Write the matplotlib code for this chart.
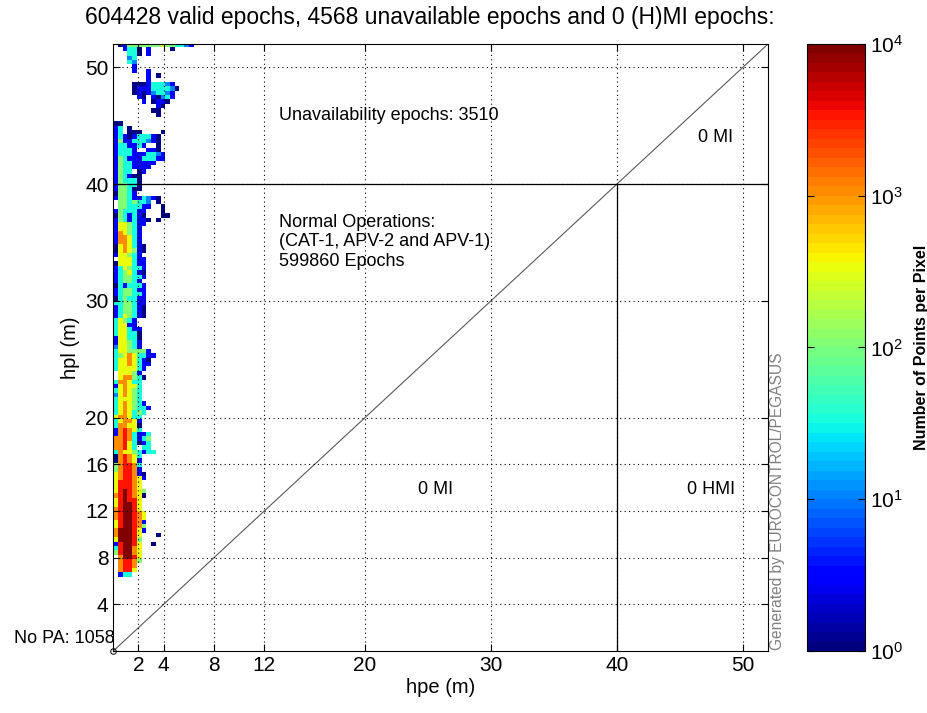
import numpy as np
import matplotlib
matplotlib.use("Agg")
import matplotlib.pyplot as plt
from matplotlib.colors import LogNorm

plt.rcParams['font.family'] = ['Liberation Sans', 'DejaVu Sans']

title_text = "604428 valid epochs, 4568 unavailable epochs and 0 (H)MI epochs:"
x_ticks = [2, 4, 8, 12, 20, 30, 40, 50]
y_ticks = [4, 8, 12, 16, 20, 30, 40, 50]
cbar_ticks = [1, 10, 100, 1000, 10000]
axis_max = 52
alert_limit = 40
bin_size = 0.375
top_bin_edge = 52.125

# density map, top row first (hpl ~52 m down to ~6.4 m),
# one char per hpe bin from 0 m: digit d -> about 10**(d/2) points, '.' -> empty
hist_rows = [
    ".0144444445443321",
    "..1330.1....0",
    "...330.1",
    "...23",
    "...32",
    "....1",
    "....1..1",
    ".......1.0",
    ".......1",
    "....000133321",
    "....0111333320",
    "....010123321",
    ".....10.10231",
    "......1.0110",
    ".........10",
    "........00",
    ".........0",
    "",
    "00",
    "13.0",
    "13.000....0",
    "1310133310",
    "1411333210",
    "1331131..0",
    "13331..110",
    "13331113321",
    "14311133311",
    "143311111",
    "14331111",
    "1433.01",
    "143100",
    "143330",
    "144330",
    "144300",
    "04431",
    "1443113210",
    ".4434332.0",
    ".4433311..0",
    "1433311...0",
    "0431310...00",
    "14313110.0",
    "1554311",
    "155431",
    "165431",
    "166531",
    "166531",
    "0565310",
    "0565410",
    "155431",
    ".555311",
    "0555311",
    "1354331",
    "1345310",
    "1344331",
    "134431",
    "0313331",
    "1344311",
    "1344331",
    "0343311",
    "3344311",
    "1344310",
    "1344310",
    "1354310",
    "35431",
    "35511",
    "355311",
    "355330",
    "155330",
    "155431",
    "255431",
    "35544441",
    "345653311",
    "35565310",
    "35565311",
    "3555531",
    ".55541",
    ".566430",
    "366533",
    "156553",
    "356543",
    "256543",
    "355543",
    "3565431",
    "35654331",
    "3565343",
    "566533",
    "356651",
    "366550",
    "167653",
    "16763113",
    "66763134",
    "66753013",
    "66753.33",
    "365543133",
    "067653",
    "067651",
    "467763",
    "467761",
    "5677610",
    "5677651",
    "577765",
    "577765",
    "5787654",
    "6787650",
    "578775",
    "578875",
    "678875",
    "6788765",
    "6788765",
    "5788761",
    "5788764",
    "6888751",
    "688875...0",
    "588874",
    "178875..0",
    "378865",
    "478865",
    ".68875",
    ".67764",
    ".6776",
    ".6775",
    ".133",
]

# build count grid (bottom row first for pcolormesh)
ncols = max(len(r) for r in hist_rows)
counts = np.full((len(hist_rows), ncols), np.nan)
for i, row in enumerate(hist_rows):
    for j, ch in enumerate(row):
        if ch != '.':
            counts[i, j] = 10 ** (int(ch) / 2)
counts = counts[::-1]
x_edges = np.arange(ncols + 1) * bin_size
y_edges = top_bin_edge - np.arange(len(hist_rows), -1, -1) * bin_size

fig = plt.figure(figsize=(9.28, 7.13), dpi=100)
ax = fig.add_axes([0.1221, 0.0870, 0.7055, 0.8513])
cax = fig.add_axes([0.8696, 0.0870, 0.0625, 0.8513])

mesh = ax.pcolormesh(x_edges, y_edges, counts, cmap=plt.get_cmap('jet', 64),
                     norm=LogNorm(1, 1e4), zorder=0.5)

# region boundaries
ax.plot([0, axis_max], [0, axis_max], color='0.35', lw=0.8)
ax.axhline(alert_limit, color='k', lw=0.9)
ax.plot([alert_limit, alert_limit], [0, alert_limit], color='k', lw=0.9)
ax.plot(0, 0, 'o', ms=4, mfc='none', mec='k', mew=0.7, clip_on=False)

ax.set_xlim(0, axis_max)
ax.set_ylim(0, axis_max)
ax.set_xticks(x_ticks)
ax.set_yticks(y_ticks)
ax.tick_params(direction='in', top=True, right=True, labelsize=15, length=5)
ax.set_axisbelow(False)
ax.grid(True, color='k', linestyle=(0, (1, 3)), linewidth=0.8)
ax.set_xlabel('hpe (m)', fontsize=14.5, labelpad=2)
ax.set_ylabel('hpl (m)', fontsize=14.5)

fig.text(0.4636, 0.975, title_text, ha='center', va='center', fontsize=16.5)

ax.text(13.15, 45.9, 'Unavailability epochs: 3510', fontsize=13, va='center')
ax.text(13.15, 35.05, 'Normal Operations:\n(CAT-1, APV-2 and APV-1)\n599860 Epochs',
        fontsize=13, va='center', linespacing=1.2)
ax.text(46.4, 43.96, '0 MI', fontsize=13, va='center')
ax.text(24.2, 13.8, '0 MI', fontsize=13, va='center')
ax.text(45.6, 13.8, '0 HMI', fontsize=13, va='center')

fig.text(0.1239, 0.1038, 'No PA: 1058', ha='right', va='center', fontsize=13)
fig.text(0.8373, 0.0884, 'Generated by EUROCONTROL/PEGASUS', rotation=90,
         ha='center', va='bottom', color='0.5', fontsize=11.2)

cb = fig.colorbar(mesh, cax=cax)
cb.set_ticks(cbar_ticks)
cb.set_ticklabels([r'$\mathregular{10^{%d}}$' % np.log10(t) for t in cbar_ticks])
cb.ax.minorticks_off()
cb.ax.tick_params(direction='in', left=True, right=True, labelsize=15, length=5)
cb.set_label('Number of Points per Pixel', fontsize=11.5, fontweight='bold', labelpad=8)

fig.savefig('out.png', dpi=100)
